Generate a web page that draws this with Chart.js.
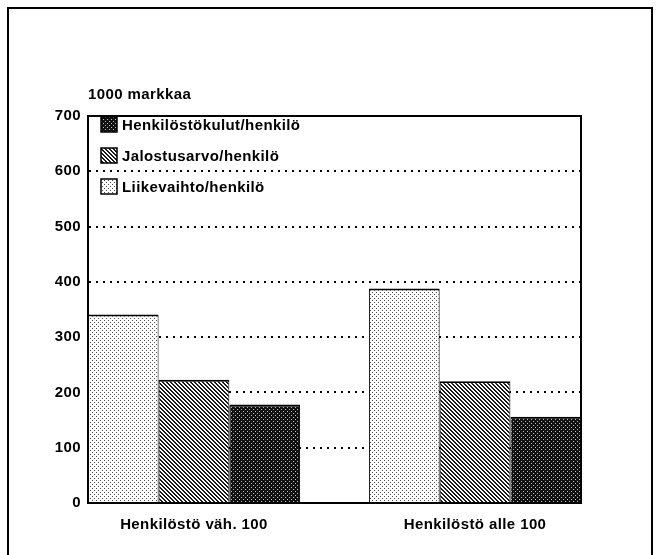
<!DOCTYPE html>
<html>
<head>
<meta charset="utf-8">
<script src="https://cdn.jsdelivr.net/npm/chart.js@4/dist/chart.umd.min.js"></script>
<style>
  html, body { margin: 0; padding: 0; background: #fff; }
  #wrap { width: 659px; height: 555px; position: relative; }
</style>
</head>
<body>
<div id="wrap"><canvas id="chart" width="659" height="555"></canvas></div>
<script>
// values in 1000 markkaa
var categories = ["Henkilöstö väh. 100", "Henkilöstö alle 100"];
var seriesNames = ["Liikevaihto/henkilö", "Jalostusarvo/henkilö", "Henkilöstökulut/henkilö"];
var liikevaihto = [341, 388];
var jalostusarvo = [223, 220];
var henkilostokulut = [178, 156];
var yTicks = [0, 100, 200, 300, 400, 500, 600, 700];
var unitLabel = "1000 markkaa";

var FONT = '"Liberation Sans", Arial, Helvetica, sans-serif';
var SPACING = "0.4px";

// small bitmap tiles imitating the printed screens
function makePattern(size, paint) {
  var c = document.createElement("canvas");
  c.width = size;
  c.height = size;
  var ctx = c.getContext("2d");
  paint(ctx);
  return ctx.createPattern(c, "repeat");
}

var lightFill = makePattern(4, function (ctx) {
  ctx.fillStyle = "#fff";
  ctx.fillRect(0, 0, 4, 4);
  ctx.fillStyle = "#4a4a4a";
  ctx.fillRect(0, 0, 1, 1);
  ctx.fillRect(2, 2, 1, 1);
});

var hatchFill = makePattern(4, function (ctx) {
  ctx.fillStyle = "#fff";
  ctx.fillRect(0, 0, 4, 4);
  ctx.fillStyle = "#1a1a1a";
  for (var y = 0; y < 4; y++) {
    for (var x = 0; x < 4; x++) {
      if ((x - y + 4) % 4 < 2) ctx.fillRect(x, y, 1, 1);
    }
  }
});

var darkFill = makePattern(4, function (ctx) {
  ctx.fillStyle = "#111";
  ctx.fillRect(0, 0, 4, 4);
  ctx.fillStyle = "#bbb";
  ctx.fillRect(1, 1, 1, 1);
  ctx.fillRect(3, 3, 1, 1);
});

var fills = [lightFill, hatchFill, darkFill];
var seriesValues = [liikevaihto, jalostusarvo, henkilostokulut];

var datasets = seriesValues.map(function (vals, s) {
  return {
    label: seriesNames[s],
    data: vals.map(function (v, i) { return { x: i, y: v }; }),
    backgroundColor: fills[s],
    borderColor: "#000",
    borderWidth: { top: 2, left: 1, right: 1, bottom: 0 },
    borderSkipped: false,
    categoryPercentage: 0.755,
    barPercentage: 1.0
  };
});

// slightly loose tracking like the old typesetting
var tracking = {
  id: "tracking",
  beforeDraw: function (chart) { chart.ctx.letterSpacing = SPACING; }
};

// frame, plot box, unit label and the legend inside the plot
var decorations = {
  id: "decorations",
  afterDraw: function (chart) {
    var ctx = chart.ctx;
    var a = chart.chartArea;
    ctx.save();
    ctx.letterSpacing = SPACING;
    ctx.strokeStyle = "#000";
    ctx.lineWidth = 2;
    ctx.strokeRect(8, 8, 644, 600);
    ctx.strokeRect(a.left, a.top, a.right - a.left, a.bottom - a.top);

    ctx.fillStyle = "#000";
    ctx.font = "bold 15px " + FONT;
    ctx.textBaseline = "middle";
    ctx.textAlign = "left";
    ctx.fillText(unitLabel, a.left, 95);

    // legend lists the series in reverse order
    for (var k = 0; k < 3; k++) {
      var s = 2 - k;
      var bx = a.left + 13;
      var by = a.top + 1 + k * 31;
      ctx.fillStyle = fills[s];
      ctx.fillRect(bx, by, 16, 15);
      ctx.lineWidth = 1.5;
      ctx.strokeRect(bx, by, 16, 15);
      ctx.fillStyle = "#000";
      ctx.fillText(seriesNames[s], bx + 21, by + 9);
    }
    ctx.restore();
  }
};

new Chart(document.getElementById("chart"), {
  type: "bar",
  data: { datasets: datasets },
  plugins: [tracking, decorations],
  options: {
    responsive: false,
    animation: false,
    layout: { padding: { left: 8, right: 78, top: 116, bottom: 0 } },
    plugins: {
      legend: { display: false },
      tooltip: { enabled: false }
    },
    scales: {
      x: {
        type: "linear",
        min: -0.377,
        max: 1.377,
        offset: false,
        afterBuildTicks: function (scale) {
          scale.ticks = categories.map(function (c, i) { return { value: i }; });
        },
        afterFit: function (scale) { scale.height = 52; },
        grid: { display: false, offset: false, drawTicks: false },
        border: { display: true, color: "#000", width: 2 },
        ticks: {
          autoSkip: false,
          maxRotation: 0,
          padding: 13,
          color: "#000",
          font: { family: FONT, size: 15, weight: "bold" },
          callback: function (value) { return categories[value]; }
        }
      },
      y: {
        min: yTicks[0],
        max: yTicks[yTicks.length - 1],
        afterBuildTicks: function (scale) {
          scale.ticks = yTicks.map(function (v) { return { value: v }; });
        },
        afterFit: function (scale) { scale.width = 80; },
        grid: { color: "#000", lineWidth: 2, drawTicks: false },
        border: { display: true, color: "#000", width: 2, dash: [2, 5] },
        ticks: {
          padding: 7,
          color: "#000",
          font: { family: FONT, size: 15, weight: "bold" }
        }
      }
    }
  }
});
</script>
</body>
</html>
